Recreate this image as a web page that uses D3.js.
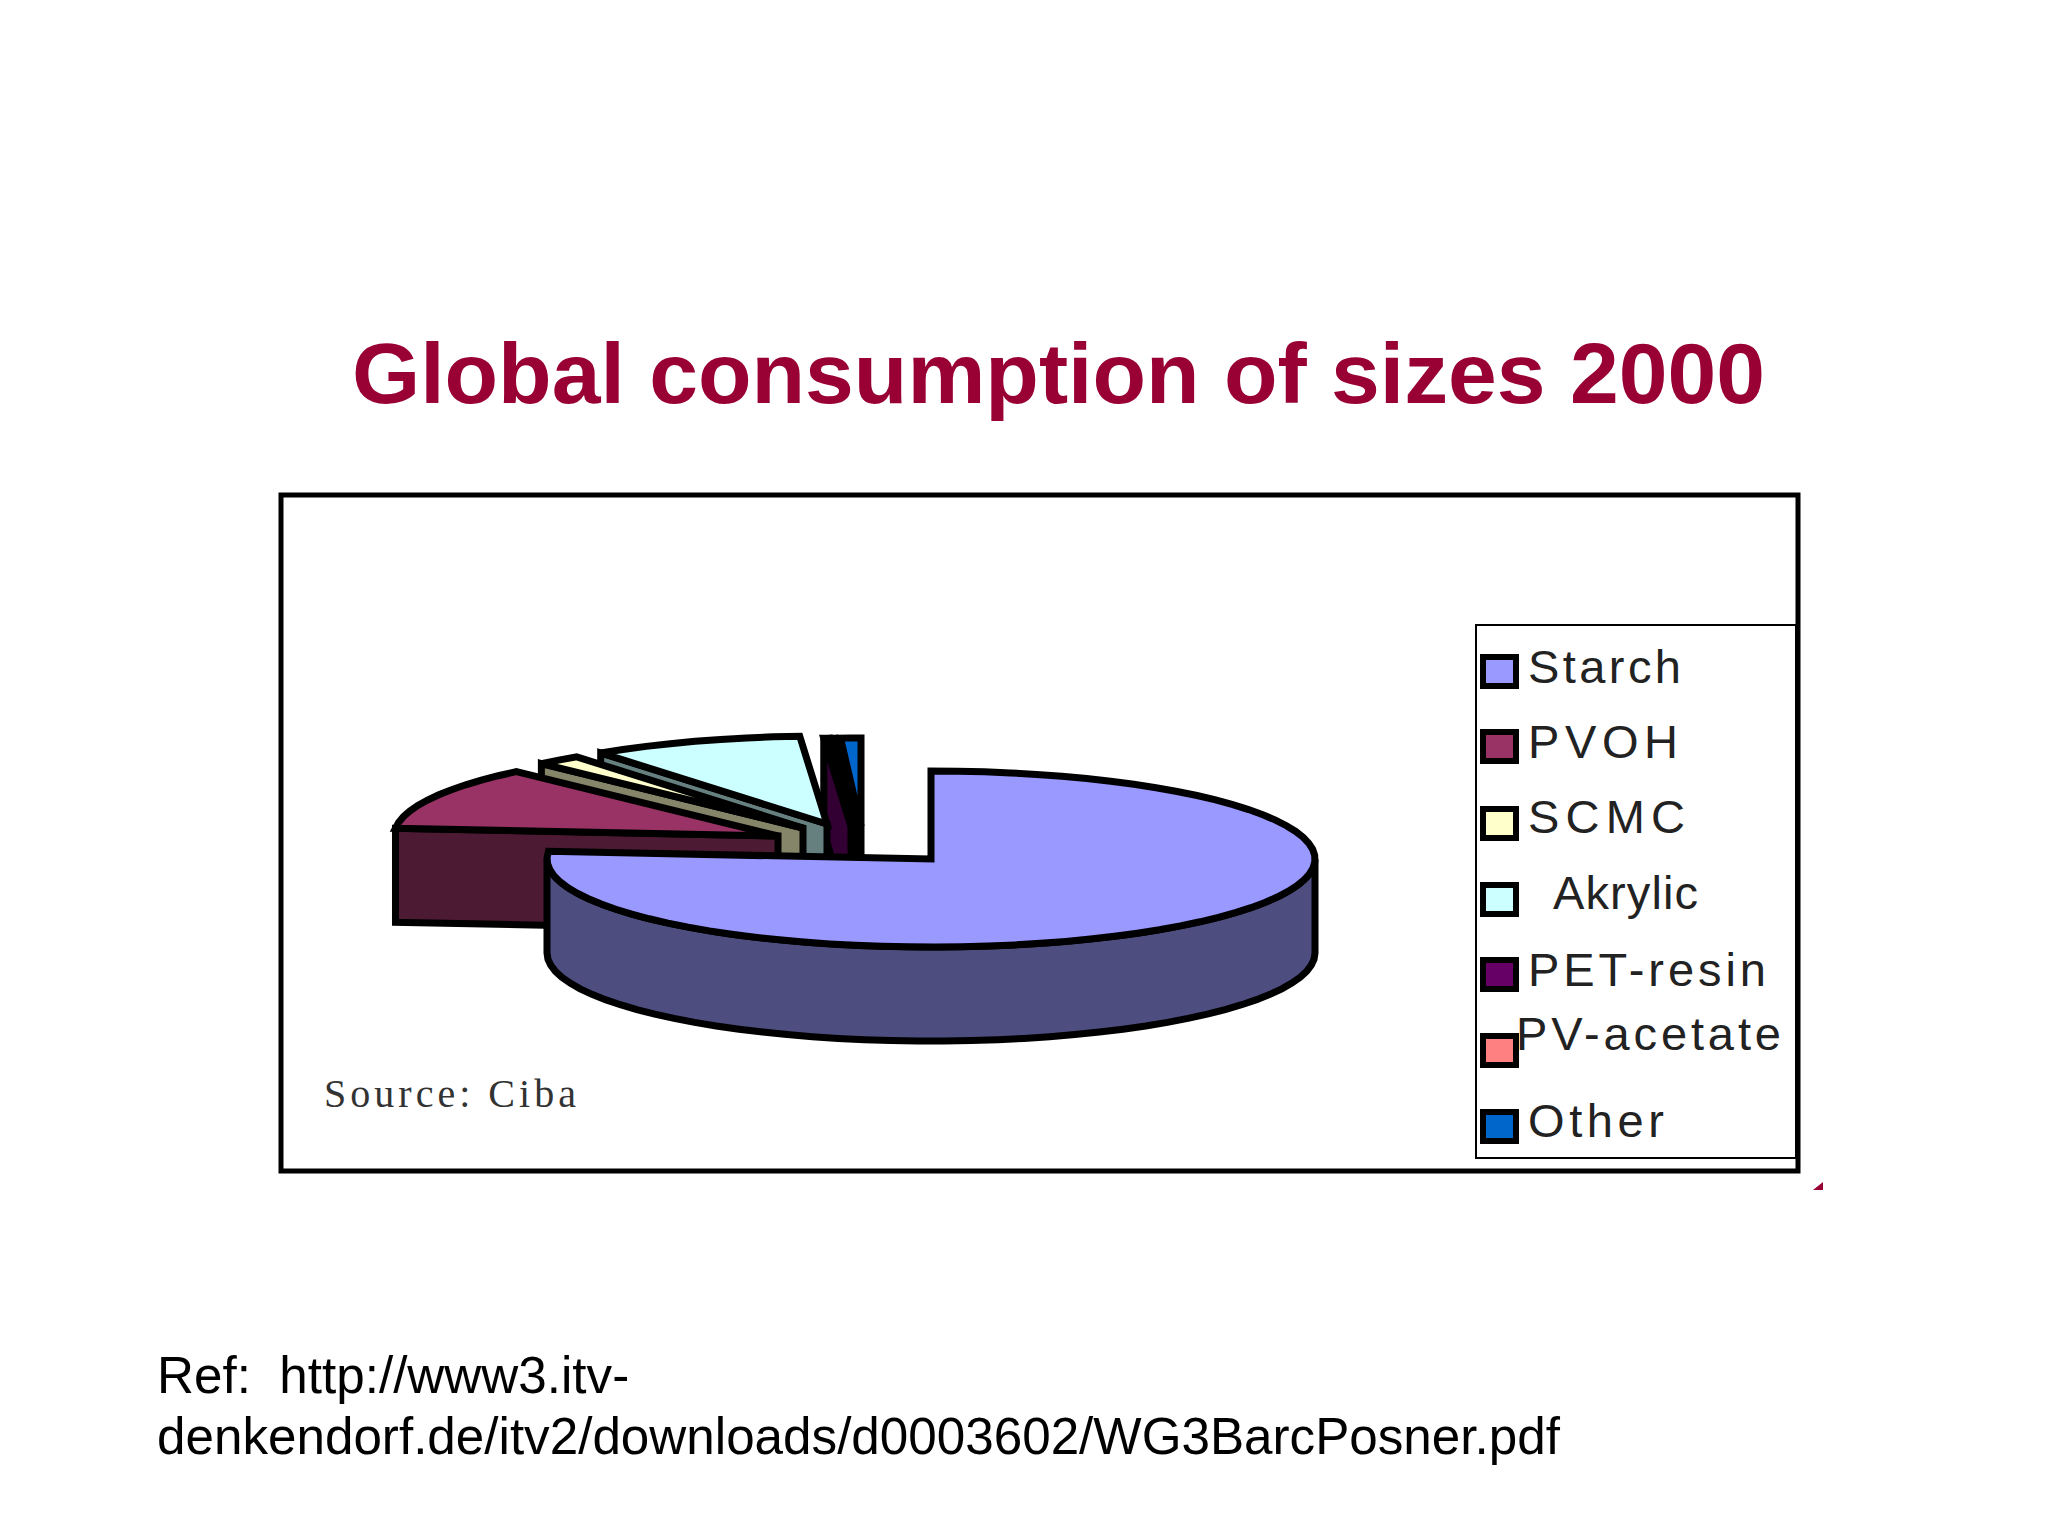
<!DOCTYPE html>
<html><head><meta charset="utf-8">
<script src="https://cdn.jsdelivr.net/npm/d3@7/dist/d3.min.js"></script>
<style>html,body{margin:0;padding:0;background:#fff}svg{display:block}text{font-family:"Liberation Sans",Arial,sans-serif}</style>
</head><body><div id="c"></div>
<script>
// data
const categories = ["Starch","PVOH","SCMC","Akrylic","PET-resin","PV-acetate","Other"];
const shares = [76.4, 11.67, 1.9, 8.9, 0.25, 0.03, 0.85];
const titleText = "Global consumption of sizes 2000";
const sourceText = "Source: Ciba";
const refLines = ["Ref:  http://www3.itv-","denkendorf.de/itv2/downloads/d0003602/WG3BarcPosner.pdf"];
// styles
const topColors = ["#9999ff","#993366","#ffffcc","#ccffff","#660066","#ff8080","#0066cc"];
const wallColors = ["#4d4d80","#4d1a33","#85856a","#668080","#330033","#804040","#003366"];
const pullX = [0,-153,-128,-104,-80,-75,-70];
const pullY = [0,-23,-31,-35,-33,-33,-33];
const legendRowY = [671,746,823,899,974,1050,1126];
const legendTextX = [1528,1528,1528,1553,1528,1516,1528];
const legendTextY = [683,758,833,909,986,1050,1137];
const legendTextW = [153,150,157,145,238,265,136];

const W=2048,H=1536, cx=931, cy=859, rx=384, ry=88, depth=94;
const svg=d3.select("#c").append("svg").attr("width",W).attr("height",H);
svg.append("rect").attr("width",W).attr("height",H).attr("fill","#fff");

svg.append("text").attr("x",352).attr("y",403).attr("font-size",86).attr("font-weight","bold")
  .attr("fill","#990033").attr("textLength",1413).attr("lengthAdjust","spacingAndGlyphs").text(titleText);

svg.append("rect").attr("x",281).attr("y",495).attr("width",1517).attr("height",676)
  .attr("fill","#fff").attr("stroke","#000").attr("stroke-width",5);
svg.append("path").attr("d","M1813 1190L1823 1182L1823 1190Z").attr("fill","#990033");

const arcs=d3.pie().sort(null).value(d=>d)(shares);
const line=d3.line();
const pt=(a,ox,oy,dz=0)=>[ox+cx+rx*Math.sin(a), oy+cy-ry*Math.cos(a)+dz];
const sample=(a0,a1,ox,oy,dz=0)=>{const n=Math.max(2,Math.ceil((a1-a0)/0.07));
  return d3.range(n+1).map(i=>pt(a0+(a1-a0)*i/n,ox,oy,dz));};
const pie=svg.append("g").attr("stroke","#000").attr("stroke-width",7).attr("stroke-linejoin","miter").attr("stroke-miterlimit",3);

// back to front: last slice first, Starch on top
d3.range(arcs.length-1,-1,-1).forEach(i=>{
  const a=arcs[i], ox=pullX[i], oy=pullY[i];
  const apex=[cx+ox,cy+oy];
  if(i===0){
    const rim=sample(Math.PI/2,Math.PI*1.5,ox,oy);
    const low=sample(Math.PI/2,Math.PI*1.5,ox,oy,depth).reverse();
    pie.append("path").attr("d",line(rim.concat(low))+"Z").attr("fill",wallColors[i]);
  } else {
    const p=pt(a.startAngle,ox,oy);
    const wall=[p,apex,[apex[0],apex[1]+depth],[p[0],p[1]+depth]];
    pie.append("path").attr("d",line(wall)+"Z").attr("fill",wallColors[i]);
  }
  const top=[apex].concat(sample(a.startAngle,a.endAngle,ox,oy));
  pie.append("path").attr("d",line(top)+"Z").attr("fill",topColors[i]);
});

svg.append("text").attr("x",324).attr("y",1107).attr("font-size",40).attr("fill","#333")
  .attr("textLength",252).style("font-family","'Liberation Serif',serif").text(sourceText);

svg.append("rect").attr("x",1476).attr("y",625).attr("width",320).attr("height",533)
  .attr("fill","#fff").attr("stroke","#000").attr("stroke-width",2);
const leg=svg.append("g");
leg.selectAll("rect").data(categories).join("rect")
  .attr("x",1483).attr("y",(d,i)=>legendRowY[i]-14).attr("width",33).attr("height",29)
  .attr("fill",(d,i)=>topColors[i]).attr("stroke","#000").attr("stroke-width",6);
leg.selectAll("text").data(categories).join("text")
  .attr("x",(d,i)=>legendTextX[i]).attr("y",(d,i)=>legendTextY[i])
  .attr("font-size",47).attr("textLength",(d,i)=>legendTextW[i]).attr("fill","#222").text(d=>d);

svg.append("g").selectAll("text").data(refLines).join("text")
  .attr("x",157).attr("y",(d,i)=>1393+i*61).attr("font-size",51.2).attr("fill","#000")
  .style("white-space","pre").text(d=>d);
</script></body></html>
